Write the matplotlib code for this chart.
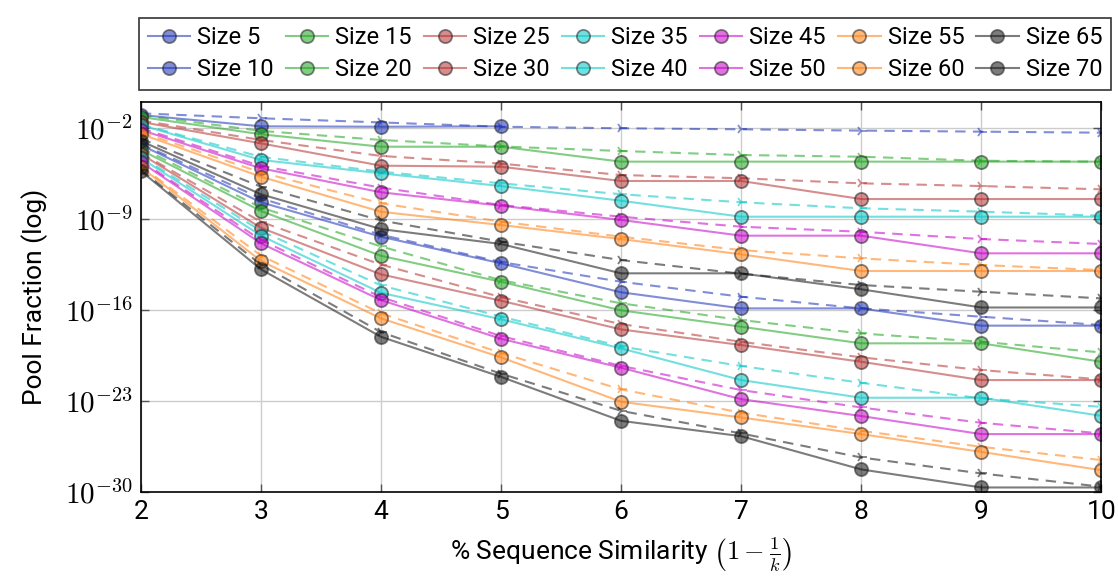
import numpy as np
import matplotlib
matplotlib.use("Agg")
import matplotlib.pyplot as plt
from matplotlib.ticker import FixedLocator, FuncFormatter, NullLocator

plt.rcParams['font.family'] = ['Roboto', 'DejaVu Sans']
plt.rcParams['mathtext.fontset'] = 'cm'

# x axis: k
k = [2, 3, 4, 5, 6, 7, 8, 9, 10]
nan = np.nan

# log10 of pool fraction
# measured (solid, circles)
meas = {
    'Size 5':  [-0.98, -1.85, -1.88, -1.85, nan, nan, nan, nan, nan],
    'Size 10': [-3.29, -7.70, -10.35, -12.40, -14.63, -15.87, -15.87, -17.2, -17.2],
    'Size 15': [-1.13, -2.46, -3.42, -3.42, -4.57, -4.57, -4.57, -4.57, -4.57],
    'Size 20': [-3.67, -8.37, -11.82, -13.82, -16.02, -17.28, -18.56, -18.56, -19.98],
    'Size 25': [-1.51, -3.16, -4.88, -4.96, -6.06, -6.06, -7.45, -7.45, -7.45],
    'Size 30': [-3.98, -9.66, -13.25, -15.28, -17.49, -18.69, -19.98, -21.39, -21.39],
    'Size 35': [-1.75, -4.44, -5.47, -6.45, -7.58, -8.81, -8.81, -8.81, -8.81],
    'Size 40': [-4.29, -10.27, -14.67, -16.71, -18.95, -21.39, -22.75, -22.75, -24.14],
    'Size 45': [-2.13, -5.08, -6.93, -7.96, -9.06, -10.27, -10.27, -11.63, -11.63],
    'Size 50': [-4.60, -10.86, -15.23, -18.21, -20.44, -22.86, -24.16, -25.55, -25.55],
    'Size 55': [-2.44, -5.73, -8.43, -9.45, -10.53, -11.71, -12.99, -12.99, -12.99],
    'Size 60': [-4.98, -12.22, -16.64, -19.64, -23.06, -24.27, -25.55, -26.92, -28.33],
    'Size 65': [-2.98, -7.08, -9.76, -10.91, -13.17, -13.17, -14.40, -15.80, -15.80],
    'Size 70': [-5.29, -12.86, -18.06, -21.14, -24.53, -25.71, -28.27, -29.66, -29.66],
}
# predicted (dashed)
pred = {
    'Size 5':  [-0.85, -1.23, -1.55, -1.88, -2.00, -2.08, -2.18, -2.26, -2.34],
    'Size 10': [-3.20, -7.40, -10.20, -12.30, -13.82, -14.97, -15.87, -16.51, -17.15],
    'Size 15': [-1.00, -2.20, -2.90, -3.40, -3.75, -4.06, -4.19, -4.50, -4.57],
    'Size 20': [-3.50, -8.10, -11.10, -13.70, -15.48, -16.77, -17.80, -18.44, -19.26],
    'Size 25': [-1.40, -2.90, -4.13, -4.72, -5.60, -5.85, -6.24, -6.45, -6.70],
    'Size 30': [-3.90, -9.20, -12.50, -15.00, -17.08, -18.44, -19.64, -20.62, -21.34],
    'Size 35': [-1.70, -4.20, -5.34, -6.24, -7.08, -7.70, -8.16, -8.42, -8.73],
    'Size 40': [-4.20, -9.90, -14.10, -16.50, -18.80, -20.31, -21.60, -22.80, -23.45],
    'Size 45': [-2.00, -4.90, -6.57, -7.91, -8.81, -9.58, -9.97, -10.53, -10.91],
    'Size 50': [-4.50, -10.60, -15.00, -18.00, -20.30, -22.16, -23.50, -24.68, -25.50],
    'Size 55': [-2.30, -5.40, -7.78, -9.19, -10.35, -11.38, -12.02, -12.53, -12.92],
    'Size 60': [-4.90, -11.80, -16.25, -19.30, -22.11, -23.90, -25.30, -26.53, -27.55],
    'Size 65': [-2.80, -6.50, -9.10, -10.73, -12.15, -13.20, -14.07, -14.59, -15.10],
    'Size 70': [-5.20, -12.50, -17.70, -20.90, -23.76, -25.50, -27.35, -28.58, -29.60],
}

colors = ['#1a2fb5', '#1ea31e', '#b42f2f', '#00c5c5', '#c500c5', '#ff7f0e', '#111111']

fig = plt.figure(figsize=(11.18, 5.78), dpi=100)
ax = fig.add_axes([0.126, 0.149, 0.859, 0.674])

handles = []
for i, name in enumerate(meas):
    c = colors[i // 2]
    ym = 10.0 ** np.array(meas[name])
    yp = 10.0 ** np.array(pred[name])
    ax.plot(k, yp, linestyle=(0, (5, 3.5)), color=c, alpha=0.55, lw=1.5,
            marker='4', markersize=8, markeredgewidth=1.3)
    h, = ax.plot(k, ym, '-', color=c, alpha=0.55, lw=1.5,
                 marker='o', markersize=9.5, markerfacecolor=c,
                 markeredgecolor='#222222', markeredgewidth=1.3, label=name)
    handles.append(h)

ax.set_yscale('log')
ax.set_xlim(2, 10)
ax.set_ylim(1e-30, 1e0)
ax.yaxis.set_major_locator(FixedLocator([1e-30, 1e-23, 1e-16, 1e-9, 1e-2]))
ax.yaxis.set_minor_locator(NullLocator())
ax.yaxis.set_major_formatter(FuncFormatter(lambda v, p: r'$10^{%d}$' % round(np.log10(v))))
ax.set_xticks(k)

ax.grid(True, color='#cccccc', lw=1)
ax.set_axisbelow(True)
ax.tick_params(direction='in', top=True, right=True, length=6, width=1,
               color='#555555', labelsize=19, pad=6)
ax.tick_params(axis='y', labelsize=21)
for s in ax.spines.values():
    s.set_linewidth(1.2)

ax.set_ylabel('Pool Fraction (log)', fontsize=19, labelpad=12)
ax.set_xlabel(r'% Sequence Similarity $\left(1-\frac{1}{k}\right)$', fontsize=19, labelpad=8)

leg = fig.legend(handles=handles, loc='upper center', bbox_to_anchor=(0.559, 0.99),
                 ncol=7, fontsize=17, frameon=True, fancybox=False, edgecolor='black',
                 handlelength=1.8, handletextpad=0.3, columnspacing=0.5,
                 borderpad=0.35, labelspacing=0.4)
leg.get_frame().set_linewidth(1.2)

fig.savefig('out.png', dpi=100)
